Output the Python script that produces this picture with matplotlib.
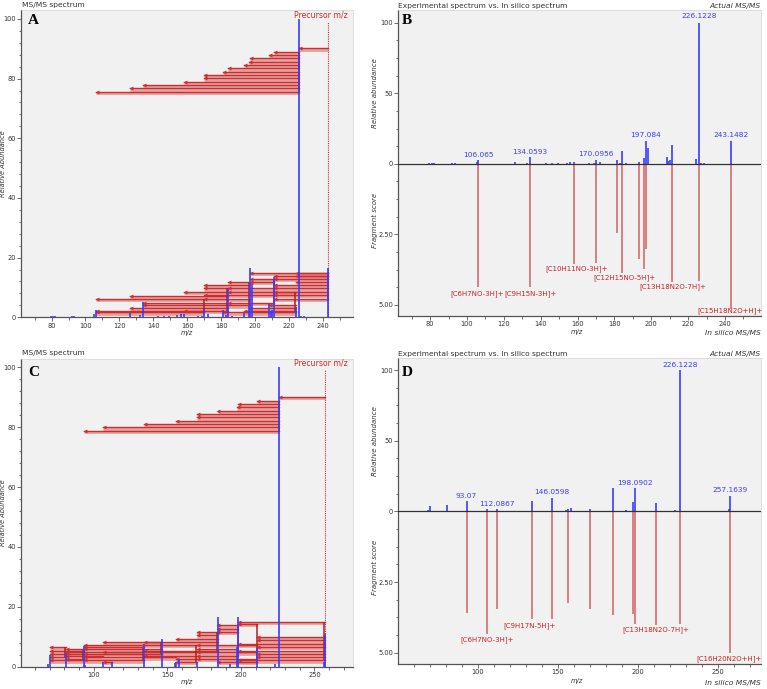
import matplotlib
matplotlib.use('Agg')
import matplotlib.pyplot as plt
from matplotlib.ticker import MultipleLocator, FixedLocator
from matplotlib.transforms import blended_transform_factory as btf

# ---------------- data ----------------
# Compound 1 (precursor 243.1482)
mz_A = [79.6, 80.9, 81.8, 91.8, 93.4, 105.3, 106.065, 126.1, 132.4, 134.0593, 143.0, 146.1,
        149.1, 154.2, 156.1, 158.2, 166.4, 168.8, 170.0956, 172.4, 181.2, 183.0, 184.1, 186.4,
        193.3, 196.2, 197.084, 198.4, 208.4, 209.3, 210.2, 211.4, 224.2, 226.1228, 227.2,
        228.7, 243.1482]
int_A = [0.5, 0.6, 0.4, 0.5, 0.6, 1.0, 2.4, 1.5, 0.7, 5.2, 0.5, 0.6, 0.5, 0.8, 1.0, 1.2,
         0.5, 0.6, 2.8, 1.0, 2.5, 0.8, 9.4, 0.6, 1.5, 4.0, 16.5, 11.0, 4.5, 2.0, 2.5, 13.4,
         3.5, 100, 0.6, 0.5, 16.5]
prec_A = 243.1482
frag_mz_B = [106.065, 134.0593, 158.2, 170.0956, 181.2, 184.1, 193.3, 196.2, 197.084,
             211.4, 226.1228, 243.1482]
frag_score_B = [4.37, 4.37, 3.56, 3.52, 2.46, 3.88, 3.38, 3.71, 3.03, 4.17, 4.15, 5.15]
peak_labels_B = [("106.065", 106.1, 6.4), ("134.0593", 134.1, 8.7), ("170.0956", 170.1, 6.8),
                 ("197.084", 197.1, 20.5), ("226.1228", 226.0, 104.7), ("243.1482", 243.1, 20.5)]
frag_labels_B = [("[C6H7NO-3H]+", 105.6, -92), ("[C9H15N-3H]+", 134.4, -92),
                 ("[C10H11NO-3H]+", 159.6, -74.5), ("[C12H15NO-5H]+", 185.5, -80.9),
                 ("[C13H18N2O-7H]+", 211.5, -87.3), ("[C15H18N2O+H]+", 242.8, -104)]
# fragmentation arrows (parent m/z, fragment m/z, y)
arrows_A = [(243.1482, 226.1228, 90.1),
            (226.1228, 211.4, 88.9), (226.1228, 208.4, 87.9), (226.1228, 197.084, 86.8),
            (226.1228, 196.2, 85.7), (226.1228, 193.3, 84.6), (226.1228, 184.1, 83.4),
            (226.1228, 181.2, 82.3), (226.1228, 170.0956, 81.2), (226.1228, 170.0956, 80.1),
            (226.1228, 158.2, 79.0), (226.1228, 134.0593, 77.9), (226.1228, 126.1, 76.7),
            (226.1228, 106.065, 75.6),
            (243.1482, 197.084, 15.0), (243.1482, 224.2, 15.0),
            (243.1482, 211.4, 14.0), (243.1482, 224.2, 14.0),
            (211.4, 197.084, 13.0), (243.1482, 211.4, 13.0),
            (197.084, 184.1, 11.9), (243.1482, 224.2, 11.9), (211.4, 197.084, 11.9),
            (197.084, 170.0956, 10.8), (243.1482, 211.4, 10.8),
            (184.1, 170.0956, 9.7), (243.1482, 211.4, 9.7), (211.4, 184.1, 9.7),
            (184.1, 158.2, 8.6), (224.2, 184.1, 8.6), (243.1482, 211.4, 8.6),
            (211.4, 170.0956, 7.5), (243.1482, 211.4, 7.5),
            (184.1, 126.1, 7.1),
            (170.0956, 106.065, 6.1), (197.084, 170.0956, 6.1), (243.1482, 211.4, 6.1),
            (184.1, 134.0593, 4.9), (211.4, 184.1, 4.9),
            (197.084, 134.0593, 4.0), (224.2, 208.4, 4.0),
            (184.1, 126.1, 3.0), (224.2, 196.2, 3.0),
            (170.0956, 106.065, 2.1), (184.1, 158.2, 2.1), (224.2, 193.3, 2.1),
            (170.0956, 106.065, 1.7), (224.2, 181.2, 1.7)]

# Compound 2 (precursor 257.1639)
mz_C = [69.1, 70.1, 81.0, 93.07, 94.0, 106.1, 112.0867, 134.1, 146.0598, 155.0, 156.1, 157.9,
        170.1, 184.1, 192.6, 197.1, 198.0902, 211.1, 222.9, 226.1228, 256.6, 257.1639]
int_C = [1.0, 4.0, 4.7, 7.0, 0.5, 1.5, 1.5, 7.5, 9.4, 1.2, 1.5, 2.5, 1.5, 16.5, 1.0, 6.6,
         16.7, 6.1, 1.0, 100, 1.5, 10.8]
prec_C = 257.1639
frag_mz_D = [93.07, 106.1, 112.0867, 134.1, 146.0598, 156.1, 170.1, 184.1, 197.1, 198.0902,
             211.1, 226.1228, 257.1639]
frag_score_D = [3.6, 4.34, 3.46, 3.82, 3.82, 3.23, 3.46, 3.68, 3.64, 3.98, 4.02, 3.98, 5.02]
peak_labels_D = [("93.07", 93.0, 11.0), ("112.0867", 112.1, 5.4), ("146.0598", 146.0, 13.4),
                 ("198.0902", 198.1, 20.4), ("226.1228", 226.1, 103.7), ("257.1639", 257.3, 14.8)]
frag_labels_D = [("[C6H7NO-3H]+", 105.9, -90.5), ("[C9H17N-5H]+", 132.3, -80.6),
                 ("[C13H18N2O-7H]+", 211.0, -83.9), ("[C16H20N2O+H]+", 257.0, -103.9)]
arrows_C = [(257.1639, 226.1228, 90.2),
            (226.1228, 211.1, 88.9), (226.1228, 198.0902, 87.7), (226.1228, 197.1, 86.6),
            (226.1228, 184.1, 85.5), (226.1228, 170.1, 84.4), (226.1228, 170.1, 83.3),
            (226.1228, 156.1, 82.2), (226.1228, 134.1, 81.1), (226.1228, 106.1, 80.0),
            (226.1228, 93.07, 78.8),
            (257.1639, 198.0902, 14.9), (211.1, 198.0902, 14.4),
            (198.0902, 184.1, 13.8), (198.0902, 184.1, 12.7),
            (198.0902, 184.1, 11.6), (184.1, 170.1, 11.6),
            (184.1, 170.1, 10.5), (257.1639, 211.1, 9.9),
            (184.1, 156.1, 9.3), (257.1639, 211.1, 8.8),
            (184.1, 106.1, 8.3), (146.0598, 134.1, 8.3),
            (257.1639, 198.0902, 7.7), (170.1, 93.07, 7.2), (211.1, 170.1, 7.2),
            (134.1, 93.07, 6.6), (81.0, 70.1, 6.5), (257.1639, 211.1, 6.6),
            (198.0902, 170.1, 6.0), (146.0598, 93.07, 6.0), (93.07, 81.0, 5.9),
            (93.07, 70.1, 5.4), (184.1, 134.1, 5.4), (257.1639, 198.0902, 5.4),
            (170.1, 106.1, 4.8), (134.1, 81.0, 4.8), (211.1, 170.1, 4.8),
            (93.07, 70.1, 4.2), (146.0598, 93.07, 4.2), (257.1639, 211.1, 4.2),
            (106.1, 81.0, 3.7), (170.1, 134.1, 3.7), (198.0902, 170.1, 3.7),
            (81.0, 70.1, 3.1), (156.1, 93.07, 3.1), (257.1639, 211.1, 3.1),
            (93.07, 81.0, 2.6), (170.1, 156.1, 2.6), (211.1, 170.1, 2.6),
            (93.07, 70.1, 2.1), (134.1, 93.07, 2.1), (257.1639, 198.0902, 2.1),
            (112.0867, 106.1, 1.6), (170.1, 156.1, 1.6), (211.1, 184.1, 1.6)]

# ---------------- style ----------------
W, H = 767, 689
BLUE = '#3b3bff'
RED = '#cc2e2e'
PALE = '#df8c8c'
BG = '#f1f1f1'
FS = 4.8
plt.rcParams['font.family'] = ['DejaVu Sans']

fig = plt.figure(figsize=(W / 100, H / 100), dpi=100)


def ax_at(l, t, r, b):
    return fig.add_axes([l / W, 1 - b / H, (r - l) / W, (b - t) / H])


def style(ax):
    ax.set_facecolor(BG)
    for s in ('top', 'right'):
        ax.spines[s].set_color('#d4d4d4')
        ax.spines[s].set_linewidth(0.5)
    for s in ('left', 'bottom'):
        ax.spines[s].set_color('#555555')
        ax.spines[s].set_linewidth(0.9)
    ax.tick_params(which='both', direction='out', colors='#555555', labelsize=FS,
                   labelcolor='#333333', width=0.6, pad=1.2)
    ax.tick_params(which='major', length=2.6)
    ax.tick_params(which='minor', length=1.8)


def draw_ms(ax, mz, inten, arrows, prec, xlim, ylim, xmaj, xmin, ymaj, ymin):
    style(ax)
    # arrows: pale band below a red line, arrow head at fragment end
    for p, f, y in arrows:
        ax.plot([f, p], [y - 0.45, y - 0.45], color=PALE, lw=2.0, solid_capstyle='butt',
                alpha=0.8, zorder=2)
    for p, f, y in arrows:
        ax.plot([f, p], [y, y], color=RED, lw=1.0, zorder=3)
        ax.plot([f + 0.6], [y], marker='<', ms=2.8, color=RED, mew=0, zorder=4)
    # vertical connectors at parent ions, per cluster
    for grp in (lambda y: y > 50, lambda y: y <= 50):
        pts = {}
        for p, f, y in arrows:
            if grp(y):
                pts.setdefault(p, []).append(y)
        for m, ys in pts.items():
            if max(ys) - min(ys) > 0.3:
                ax.vlines(m - 0.4, min(ys), max(ys), color='#b81c1c', lw=1.1, zorder=3)
    ax.vlines(prec, 0, 99, color=RED, lw=0.8, linestyles=(0, (1, 1)), zorder=3)
    ax.vlines(mz, 0, inten, color=BLUE, lw=1.2, zorder=5)
    ax.set_xlim(*xlim)
    ax.set_ylim(*ylim)
    ax.xaxis.set_major_locator(MultipleLocator(xmaj))
    ax.xaxis.set_minor_locator(MultipleLocator(xmin))
    ax.yaxis.set_major_locator(MultipleLocator(ymaj))
    ax.yaxis.set_minor_locator(MultipleLocator(ymin))
    ax.text(0.985, 101.3, 'Precursor m/z', transform=btf(ax.transAxes, ax.transData),
            ha='right', va='center', color=RED, fontsize=5.6)


def draw_cmp(ax, mz, inten, fmz, fsc, plabels, flabels, xlim, ylim, xmaj, xmin):
    style(ax)
    ax.vlines(fmz, 0, [-s * 20 for s in fsc], color='#d46060', lw=1.1, zorder=3)
    ax.vlines(mz, 0, inten, color=BLUE, lw=1.2, zorder=4)
    ax.axhline(0, color='#333333', lw=0.9, zorder=5)
    for t, x, y in plabels:
        ax.text(x, y, t, color=BLUE, fontsize=5.3, ha='center', va='center', zorder=6)
    for t, x, y in flabels:
        ax.text(x, y, t, color='#cc2222', fontsize=5.0, ha='center', va='center', zorder=6)
    ax.set_xlim(*xlim)
    ax.set_ylim(*ylim)
    ax.xaxis.set_major_locator(MultipleLocator(xmaj))
    ax.xaxis.set_minor_locator(MultipleLocator(xmin))
    ax.yaxis.set_major_locator(FixedLocator([100, 50, 0, -50, -100]))
    ax.set_yticklabels(['100', '50', '0', '2.50', '5.00'])
    ax.yaxis.set_minor_locator(MultipleLocator(12.5))
    tr = btf(ax.transAxes, ax.transData)
    ax.text(-0.064, 50, 'Relative abundance', transform=tr, rotation=90, ha='center',
            va='center', fontsize=5.0, style='italic', color='#333333')
    ax.text(-0.064, -40, 'Fragment score', transform=tr, rotation=90, ha='center',
            va='center', fontsize=5.0, style='italic', color='#333333')


def ftext(x, y, s, **kw):
    fig.text(x / W, 1 - y / H, s, **kw)


# ---------------- panels ----------------
axA = ax_at(21, 10, 353, 317.3)
draw_ms(axA, mz_A, int_A, arrows_A, prec_A, (62, 257.7), (0, 103), 20, 10, 20, 4)
axB = ax_at(398.3, 10, 761, 316)
draw_cmp(axB, mz_A, int_A, frag_mz_B, frag_score_B, peak_labels_B, frag_labels_B,
         (62.7, 259.5), (-107.8, 109), 20, 10)
axC = ax_at(21, 359, 353, 666.7)
draw_ms(axC, mz_C, int_C, arrows_C, prec_C, (50.5, 276.2), (0, 102.8), 50, 10, 20, 4)
axD = ax_at(398.3, 358, 761, 664)
draw_cmp(axD, mz_C, int_C, frag_mz_D, frag_score_D, peak_labels_D, frag_labels_D,
         (50.5, 276.7), (-108, 108.5), 50, 10)

# headers, axis labels, panel letters
txt = dict(fontsize=5.4, color='#333333', va='center')
ftext(22, 5, 'MS/MS spectrum', ha='left', **txt)
ftext(22, 353.5, 'MS/MS spectrum', ha='left', **txt)
ftext(398, 6, 'Experimental spectrum vs. In silico spectrum', ha='left', **txt)
ftext(398, 354, 'Experimental spectrum vs. In silico spectrum', ha='left', **txt)
ftext(761, 6, 'Actual MS/MS', ha='right', style='italic', **txt)
ftext(761, 354, 'Actual MS/MS', ha='right', style='italic', **txt)
ftext(761, 333.5, 'In silico MS/MS', ha='right', style='italic', **txt)
ftext(761, 682.5, 'In silico MS/MS', ha='right', style='italic', **txt)
lab = dict(fontsize=4.8, color='#333333', style='italic', ha='center', va='center')
ftext(187, 332.5, 'm/z', **lab)
ftext(187, 682, 'm/z', **lab)
ftext(577, 332, 'm/z', **lab)
ftext(577, 681.5, 'm/z', **lab)
ftext(3.5, 163.6, 'Relative Abundance', rotation=90, **lab)
ftext(3.5, 513, 'Relative Abundance', rotation=90, **lab)
let = dict(fontsize=11, fontweight='bold', family='Liberation Serif', ha='left',
           va='center', color='black')
ftext(28, 20, 'A', **let)
ftext(402, 21, 'B', **let)
ftext(28, 373, 'C', **let)
ftext(402, 373, 'D', **let)

fig.savefig('out.png', dpi=100)
